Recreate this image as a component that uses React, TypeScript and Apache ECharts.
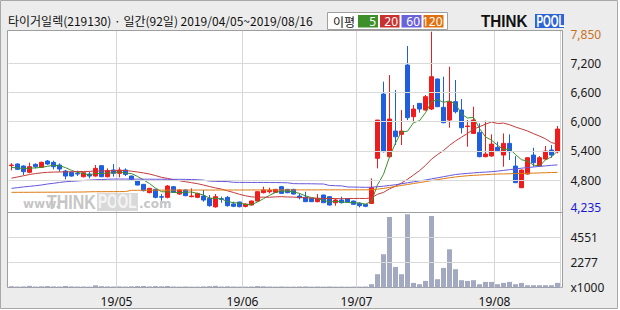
import React, { useEffect, useRef } from "react";
import * as echarts from "echarts";

// ---- trading days (2019/04/05 ~ 2019/08/16, 92 days)
const aprDays = [5, 8, 9, 10, 11, 12, 15, 16, 17, 18, 19, 22, 23, 24, 25, 26, 29, 30];
const mayDays = [2, 3, 7, 8, 9, 10, 13, 14, 15, 16, 17, 20, 21, 22, 23, 24, 27, 28, 29, 30, 31];
const junDays = [3, 4, 5, 7, 10, 11, 12, 13, 14, 17, 18, 19, 20, 21, 24, 25, 26, 27, 28];
const julDays = [1, 2, 3, 4, 5, 8, 9, 10, 11, 12, 15, 16, 17, 18, 19, 22, 23, 24, 25, 26, 29, 30, 31];
const augDays = [1, 2, 5, 6, 7, 8, 9, 12, 13, 14, 16];

// ---- OHLC: [open, close, low, high]
const candles: number[][] = [
  [5100, 5110, 5000, 5150], [5131, 5021, 5008, 5145], [5090, 4973, 4905, 5104], [4960, 5076, 4939, 5158],
  [5124, 5076, 5042, 5145], [5062, 5165, 5055, 5180], [5192, 5131, 5110, 5213], [5165, 5076, 5021, 5199],
  [5110, 5028, 4973, 5145], [4987, 4884, 4816, 5008], [4960, 4884, 4870, 4973], [4939, 4925, 4884, 4994],
  [4870, 4953, 4856, 4960], [4925, 4884, 4836, 4973], [4884, 5042, 4870, 5110], [5097, 4870, 4860, 5104],
  [4870, 4994, 4857, 5042], [5008, 4939, 4870, 5131], [4939, 5008, 4857, 5062], [5008, 4918, 4884, 5042],
  [4884, 4816, 4800, 4890], [4788, 4699, 4690, 4800], [4713, 4583, 4570, 4720], [4542, 4631, 4530, 4640],
  [4610, 4446, 4425, 4620], [4460, 4450, 4377, 4514], [4446, 4679, 4425, 4699], [4665, 4549, 4540, 4680],
  [4514, 4597, 4500, 4610], [4597, 4480, 4470, 4610], [4460, 4473, 4446, 4631], [4446, 4528, 4430, 4540],
  [4473, 4391, 4357, 4597], [4425, 4275, 4254, 4494], [4250, 4460, 4235, 4514], [4418, 4405, 4336, 4460],
  [4446, 4275, 4254, 4473], [4310, 4262, 4245, 4357], [4350, 4255, 4240, 4357], [4260, 4309, 4240, 4320],
  [4288, 4370, 4280, 4380], [4370, 4562, 4360, 4570], [4542, 4597, 4528, 4665], [4562, 4590, 4528, 4644],
  [4549, 4610, 4540, 4620], [4665, 4528, 4520, 4680], [4610, 4542, 4530, 4620], [4610, 4514, 4505, 4620],
  [4473, 4439, 4405, 4528], [4446, 4357, 4350, 4562], [4425, 4357, 4350, 4430], [4357, 4425, 4343, 4514],
  [4494, 4336, 4330, 4500], [4460, 4288, 4280, 4470], [4336, 4391, 4275, 4425], [4391, 4336, 4323, 4460],
  [4418, 4350, 4340, 4425], [4370, 4302, 4295, 4380], [4323, 4275, 4240, 4343], [4302, 4262, 4245, 4310],
  [4322, 4644, 4308, 4836], [5247, 6034, 5041, 6034], [6569, 5384, 5370, 6822], [5281, 6055, 5260, 6959],
  [5808, 5692, 5521, 6651], [5740, 5808, 5521, 6240], [7165, 6082, 6034, 7555], [6103, 6261, 6000, 6343],
  [6377, 6261, 6185, 6380], [6240, 6514, 6230, 6548], [6261, 6925, 6240, 7850], [6877, 6309, 6300, 6890],
  [6295, 5980, 5970, 6925], [6034, 6411, 5877, 7130], [6411, 6206, 6171, 6857], [6240, 5877, 5760, 6466],
  [5900, 5912, 5486, 6034], [5760, 6034, 5747, 6308], [5781, 5281, 5270, 5966], [5281, 5336, 5270, 6021],
  [5295, 5541, 5281, 5740], [5473, 5404, 5384, 5589], [5315, 5555, 5076, 5760], [5555, 5384, 5213, 5740],
  [5089, 4747, 4740, 5295], [4644, 5007, 4635, 5015], [4925, 5260, 4915, 5270], [5315, 5158, 5076, 5466],
  [5089, 5260, 5076, 5295], [5233, 5398, 5213, 5500], [5418, 5315, 5260, 5521], [5384, 5850, 5350, 5911],
];

// ---- moving averages
const ma5 = [
  5060, 5050, 5040, 5045, 5051, 5062, 5084, 5105, 5095, 5057, 5001, 4959, 4935, 4906, 4938, 4935,
  4949, 4946, 4971, 4946, 4935, 4876, 4805, 4729, 4635, 4562, 4558, 4551, 4544, 4551, 4556, 4525,
  4494, 4429, 4425, 4412, 4361, 4335, 4331, 4301, 4294, 4352, 4419, 4486, 4546, 4577, 4573, 4557,
  4527, 4476, 4442, 4418, 4383, 4353, 4359, 4355, 4340, 4333, 4331, 4305, 4367, 4703, 4920, 5276,
  5562, 5795, 5804, 5980, 6021, 6185, 6409, 6454, 6398, 6428, 6366, 6157, 6077, 6088, 5862, 5688,
  5621, 5519, 5423, 5444, 5326, 5219, 5191, 5111, 5086, 5217, 5278, 5396,
];
const ma20 = [
  4840, 4865, 4890, 4915, 4935, 4950, 4960, 4965, 4968, 4970, 4972, 4975, 4978, 4980, 4985, 4988,
  4990, 4993, 4996, 4998, 4983, 4967, 4948, 4925, 4894, 4858, 4835, 4809, 4788, 4767, 4747, 4727,
  4699, 4668, 4639, 4616, 4580, 4546, 4509, 4478, 4456, 4449, 4450, 4448, 4456, 4460, 4453, 4451,
  4443, 4437, 4431, 4426, 4423, 4424, 4421, 4417, 4421, 4423, 4424, 4422, 4435, 4509, 4548, 4621,
  4676, 4740, 4817, 4904, 4995, 5103, 5231, 5325, 5408, 5514, 5605, 5682, 5760, 5846, 5897, 5950,
  5995, 5964, 5972, 5939, 5891, 5851, 5810, 5755, 5705, 5649, 5569, 5546,
];
const ma60 = [
  4631, 4645, 4660, 4672, 4685, 4700, 4720, 4735, 4752, 4767, 4775, 4783, 4792, 4800, 4808, 4812,
  4818, 4822, 4822, 4822, 4820, 4820, 4820, 4818, 4818, 4818, 4816, 4816, 4816, 4815, 4812, 4808,
  4800, 4780, 4774, 4772, 4770, 4755, 4753, 4753, 4752, 4752, 4752, 4750, 4750, 4748, 4745, 4728,
  4726, 4726, 4725, 4722, 4720, 4690, 4685, 4682, 4660, 4657, 4655, 4652, 4655, 4665, 4675, 4690,
  4705, 4725, 4745, 4765, 4785, 4802, 4825, 4848, 4870, 4893, 4915, 4928, 4938, 4948, 4958, 4965,
  4973, 4985, 5000, 5015, 5030, 5045, 5058, 5070, 5082, 5093, 5105, 5112,
];
const ma120 = [
  4549, 4549, 4550, 4550, 4551, 4551, 4552, 4552, 4553, 4553, 4554, 4555, 4556, 4560, 4562, 4562,
  4563, 4563, 4564, 4565, 4590, 4591, 4592, 4593, 4594, 4594, 4595, 4595, 4596, 4596, 4596, 4596,
  4596, 4596, 4596, 4597, 4597, 4597, 4597, 4597, 4598, 4598, 4598, 4598, 4598, 4598, 4599, 4599,
  4599, 4599, 4599, 4599, 4600, 4600, 4600, 4600, 4600, 4600, 4600, 4600, 4605, 4615, 4630, 4650,
  4670, 4690, 4710, 4730, 4750, 4770, 4790, 4810, 4830, 4848, 4865, 4878, 4890, 4898, 4905, 4912,
  4920, 4925, 4928, 4931, 4934, 4937, 4940, 4944, 4948, 4952, 4956, 4960,
];

// ---- volume (x1000 shares)
const volumes = [
  120, 90, 100, 150, 90, 110, 130, 100, 90, 140, 100, 90, 90, 80, 200, 120,
  100, 90, 100, 90, 110, 130, 140, 100, 130, 110, 140, 90, 80, 90, 80, 80,
  100, 120, 150, 90, 110, 90, 80, 80, 90, 130, 110, 90, 80, 90, 80, 80,
  90, 100, 80, 90, 80, 90, 80, 80, 70, 80, 80, 90, 300, 1210, 3030, 6420,
  1870, 1210, 6670, 420, 300, 600, 6510, 755, 1785, 3480, 1665, 665, 600, 665, 300, 510,
  510, 300, 420, 510, 300, 420, 210, 210, 210, 210, 210, 420,
];

// ---- axis ticks
const priceLabels = [4235, 4800, 5400, 6000, 6600, 7200, 7850];
const priceGridLines = [4800, 5400, 6000, 6600, 7200];
const volumeLabels = [0, 2277, 4551];
const volumeGridLines = [2277, 4551];
const priceMin = 4235;
const priceMax = 7850;

const pad = (n: number) => (n < 10 ? "0" + n : String(n));
const dates: string[] = [
  ...aprDays.map((d) => `2019/04/${pad(d)}`),
  ...mayDays.map((d) => `2019/05/${pad(d)}`),
  ...junDays.map((d) => `2019/06/${pad(d)}`),
  ...julDays.map((d) => `2019/07/${pad(d)}`),
  ...augDays.map((d) => `2019/08/${pad(d)}`),
];
const monthStart = new Set<number>();
dates.forEach((d, i) => {
  if (i > 0 && d.slice(5, 7) !== dates[i - 1].slice(5, 7)) monthStart.add(i);
});

const fmt = (v: number) => String(Math.round(v)).replace(/\B(?=(\d{3})+(?!\d))/g, ",");

const KR = "'Noto Sans CJK KR', 'Noto Sans', sans-serif";
const NUM = "'Noto Sans', 'DejaVu Sans', sans-serif";

export default function App() {
  const ref = useRef<HTMLDivElement>(null);
  useEffect(() => {
    if (!ref.current) return;
    const chart = echarts.init(ref.current, undefined, { renderer: "svg" });
    const gridLeft = 8.5;
    const gridRight = 59.5;
    const option: any = {
      animation: false,
      backgroundColor: "#ffffff",
      grid: [
        { left: gridLeft, right: gridRight, top: 31, height: 181 },
        { left: gridLeft, right: gridRight, top: 212.5, height: 75 },
      ],
      xAxis: [
        {
          type: "category", gridIndex: 0, data: dates, boundaryGap: true,
          axisLine: { show: false }, axisTick: { show: false }, axisLabel: { show: false },
          splitLine: { show: true, interval: (i: number) => monthStart.has(i), lineStyle: { color: "#d6d6d6", width: 1 } },
        },
        {
          type: "category", gridIndex: 1, data: dates, boundaryGap: true,
          axisLine: { show: false }, axisTick: { show: false },
          axisLabel: {
            show: true, interval: (i: number) => monthStart.has(i),
            formatter: (v: string) => v.slice(2, 4) + "/" + v.slice(5, 7),
            color: "#111", fontSize: 12, lineHeight: 13, fontFamily: NUM, margin: 7,
            padding: [0, 6, 0, 0],
          },
          splitLine: { show: true, interval: (i: number) => monthStart.has(i), lineStyle: { color: "#d6d6d6", width: 1 } },
        },
      ],
      yAxis: [
        {
          type: "value", gridIndex: 0, position: "right", min: 4145, max: 7864, scale: true,
          axisLine: { show: false }, axisTick: { show: false }, splitLine: { show: false },
          axisLabel: {
            show: true, customValues: priceLabels, margin: 10, fontFamily: NUM, fontSize: 12,
            formatter: (v: number) => {
              const s = fmt(v);
              if (v === priceMax) return `{hi|${s}}`;
              if (v === priceMin) return `{lo|${s}}`;
              return `{n|${s}}`;
            },
            rich: {
              hi: { color: "#c8731e", fontSize: 12, fontFamily: NUM, padding: [5, 0, 0, 0] },
              lo: { color: "#1a1ad6", fontSize: 12, fontFamily: NUM },
              n: { color: "#1a1a1a", fontSize: 12, fontFamily: NUM },
            },
          },
        },
        {
          type: "value", gridIndex: 1, position: "right", min: 0, max: 6831,
          axisLine: { show: false }, axisTick: { show: false }, splitLine: { show: false },
          axisLabel: {
            show: true, customValues: volumeLabels, margin: 10, fontFamily: NUM, fontSize: 12, color: "#1a1a1a",
            formatter: (v: number) => (v === 0 ? "x1000" : String(v)),
          },
        },
      ],
      series: [
        {
          type: "line", xAxisIndex: 0, yAxisIndex: 0, data: [], silent: true, z: 1,
          markLine: {
            silent: true, symbol: ["none", "none"], label: { show: false },
            lineStyle: { color: "#d9d9d9", width: 1, type: "solid" },
            emphasis: { disabled: true },
            data: priceGridLines.map((v) => ({ yAxis: v })),
          },
        },
        {
          type: "line", xAxisIndex: 1, yAxisIndex: 1, data: [], silent: true, z: 1,
          markLine: {
            silent: true, symbol: ["none", "none"], label: { show: false },
            lineStyle: { color: "#d9d9d9", width: 1, type: "solid" },
            emphasis: { disabled: true },
            data: volumeGridLines.map((v) => ({ yAxis: v })),
          },
        },
        {
          type: "candlestick", xAxisIndex: 0, yAxisIndex: 0, data: candles, barWidth: 5, z: 3,
          itemStyle: { color: "#f01c1c", color0: "#1f5fdf", borderColor: "#f01c1c", borderColor0: "#1f5fdf", borderWidth: 1 },
        },
        { type: "line", name: "5", xAxisIndex: 0, yAxisIndex: 0, data: ma5, symbol: "none", z: 4, lineStyle: { color: "#3d8f2a", width: 1 } },
        { type: "line", name: "20", xAxisIndex: 0, yAxisIndex: 0, data: ma20, symbol: "none", z: 4, lineStyle: { color: "#c43a3a", width: 1 } },
        { type: "line", name: "60", xAxisIndex: 0, yAxisIndex: 0, data: ma60, symbol: "none", z: 4, lineStyle: { color: "#6656dc", width: 1 } },
        { type: "line", name: "120", xAxisIndex: 0, yAxisIndex: 0, data: ma120, symbol: "none", z: 4, lineStyle: { color: "#de7a10", width: 1 } },
        {
          type: "bar", xAxisIndex: 1, yAxisIndex: 1, data: volumes, barWidth: 5, z: 3,
          itemStyle: { color: "#a2a9c0" },
        },
      ],
      graphic: [
        { type: "rect", z: -30, silent: true, shape: { x: 0.5, y: 0.5, width: 617, height: 308 }, style: { fill: "#ececec", stroke: "#a8a8a8", lineWidth: 1 } },
        { type: "rect", z: -20, silent: true, shape: { x: 7.5, y: 30.5, width: 555, height: 257 }, style: { fill: "#ffffff", stroke: "#9e9e9e", lineWidth: 1 } },
        { type: "line", z: 10, silent: true, shape: { x1: 7.5, y1: 212.5, x2: 562.5, y2: 212.5 }, style: { stroke: "#9e9e9e", lineWidth: 1 } },
        // watermark
        { type: "text", z: -10, silent: true, x: 23, y: 204, style: { text: "www.", fill: "#c6c6c6", font: "bold 12px 'DejaVu Sans', sans-serif", verticalAlign: "middle" } },
        { type: "text", z: -10, silent: true, x: 47, y: 202, scaleX: 0.8, style: { text: "THINK", fill: "#c6c6c6", font: "bold 20px 'Liberation Sans', sans-serif", verticalAlign: "middle" } },
        { type: "rect", z: -11, silent: true, shape: { x: 97, y: 193, width: 41, height: 18 }, style: { fill: "#d9d9d9" } },
        { type: "text", z: -10, silent: true, x: 98, y: 202, scaleX: 0.68, style: { text: "POOL", fill: "#f4f4f4", font: "bold 20px 'Liberation Sans', sans-serif", verticalAlign: "middle" } },
        { type: "text", z: -10, silent: true, x: 139, y: 204, style: { text: ".com", fill: "#c6c6c6", font: "bold 12px 'DejaVu Sans', sans-serif", verticalAlign: "middle" } },
        // title
        { type: "text", silent: true, x: 8, y: 20, style: { text: "타이거일렉(219130) · 일간(92일) 2019/04/05~2019/08/16", fill: "#111", font: `12px ${KR}`, verticalAlign: "middle" } },
        // legend box
        { type: "rect", silent: true, shape: { x: 327.5, y: 12.5, width: 120, height: 17 }, style: { fill: "#ffffff", stroke: "#a0a0a0", lineWidth: 1 } },
        { type: "text", silent: true, x: 333, y: 21, style: { text: "이평", fill: "#111", font: `12px ${KR}`, verticalAlign: "middle" } },
        { type: "rect", silent: true, shape: { x: 358, y: 15, width: 20, height: 12.5 }, style: { fill: "#3d8f2a" } },
        { type: "text", silent: true, x: 376, y: 21.5, style: { text: "5", fill: "#ffffff", font: `12px ${NUM}`, align: "right", verticalAlign: "middle" } },
        { type: "rect", silent: true, shape: { x: 380, y: 15, width: 19.5, height: 12.5 }, style: { fill: "#c8312f" } },
        { type: "text", silent: true, x: 398, y: 21.5, style: { text: "20", fill: "#ffffff", font: `12px ${NUM}`, align: "right", verticalAlign: "middle" } },
        { type: "rect", silent: true, shape: { x: 401.5, y: 15, width: 20, height: 12.5 }, style: { fill: "#6a62d8" } },
        { type: "text", silent: true, x: 420, y: 21.5, style: { text: "60", fill: "#ffffff", font: `12px ${NUM}`, align: "right", verticalAlign: "middle" } },
        { type: "rect", silent: true, shape: { x: 423.5, y: 15, width: 20, height: 12.5 }, style: { fill: "#e07010" } },
        { type: "text", silent: true, x: 442.5, y: 21.5, style: { text: "120", fill: "#ffffff", font: `12px ${NUM}`, align: "right", verticalAlign: "middle" } },
        // logo
        { type: "text", silent: true, x: 481, y: 21.5, scaleX: 0.95, style: { text: "THINK", fill: "#111", font: "bold 16px 'Liberation Sans', sans-serif", verticalAlign: "middle" } },
        { type: "rect", silent: true, shape: { x: 535, y: 14, width: 29, height: 14 }, style: { fill: "#2c63d8" } },
        { type: "text", silent: true, x: 536.5, y: 21.5, scaleX: 0.62, style: { text: "POOL", fill: "#ffffff", font: "bold 16px 'Liberation Sans', sans-serif", verticalAlign: "middle" } },
      ],
    };
    chart.setOption(option);
    return () => chart.dispose();
  }, []);
  return <div ref={ref} style={{ position: "fixed", left: 0, top: 0, width: 620, height: 310 }} />;
}
